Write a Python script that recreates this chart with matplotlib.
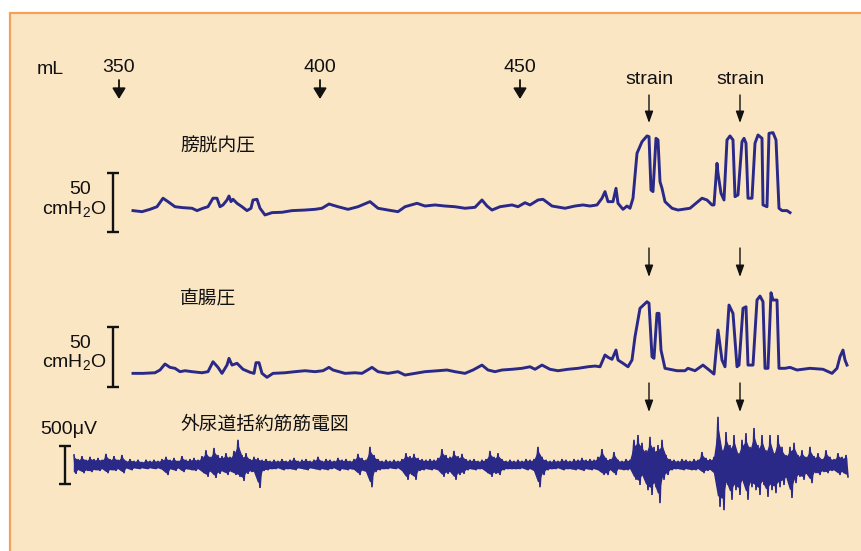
"""Urodynamic trace: bladder pressure, rectal pressure and external
urethral sphincter EMG during filling, with two strain manoeuvres."""
import numpy as np
import matplotlib
matplotlib.use("Agg")
import matplotlib.pyplot as plt
from matplotlib.patches import Rectangle

BG = "#fbe6c4"
EDGE = "#f2a25a"
TRACE = "#2b2987"
INK = "#111111"

plt.rcParams.update({
    "font.family": ["Liberation Sans", "Noto Sans CJK JP"],
    "mathtext.fontset": "custom",
    "mathtext.rm": "Liberation Sans",
    "text.color": INK,
})

# time axis in seconds from the 350 mL mark
vol_labels = ["350", "400", "450"]
vol_t = [0, 201, 401]
strain_t = [530, 621]

# bladder pressure (cmH2O)
bl_t = [14, 23, 31, 38, 44, 49, 56, 64, 73, 78, 84, 89, 94, 98, 101, 104, 108,
        110, 112, 114, 118, 123, 128, 132, 134, 138, 141, 146, 153, 163, 173,
        186, 196, 203, 210, 219, 229, 239, 251, 259, 269, 279, 286, 298, 306,
        316, 326, 336, 346, 356, 363, 368, 373, 381, 393, 399, 406, 411, 419,
        424, 433, 446, 456, 464, 471, 478, 483, 486, 489, 494, 497, 499, 504,
        508, 511, 514, 518, 523, 528, 530, 532, 534, 537, 539, 541, 543, 546,
        553, 559, 571, 583, 588, 593, 595, 598, 599, 602, 605, 608, 611, 614,
        616, 619, 623, 625, 627, 629, 633, 636, 639, 643, 644, 648, 650, 654,
        657, 660, 663, 668, 671]
bl_p = [18.1, 17.2, 19.2, 21.4, 28.6, 25.7, 21.4, 20.6, 20.1, 18.1, 20.1, 21.4,
        28.6, 28.6, 21.4, 22.9, 27.1, 30.5, 25.7, 27.7, 24.3, 21.4, 18.1, 20.1,
        27.1, 27.7, 20.1, 14.4, 16.4, 16.7, 18.1, 18.6, 19.2, 20.1, 23.7, 21.4,
        19.2, 21.4, 25.7, 20.1, 18.6, 17.2, 21.4, 24.3, 22.0, 22.9, 22.0, 21.4,
        20.1, 20.9, 27.1, 22.0, 18.6, 21.4, 22.9, 21.4, 24.8, 22.9, 27.1, 27.7,
        22.0, 20.1, 22.0, 22.9, 22.0, 22.9, 28.6, 34.2, 25.7, 25.7, 37.0, 24.3,
        19.2, 22.0, 20.1, 28.6, 66.7, 76.5, 81.4, 80.8, 35.6, 34.2, 79.4, 78.0,
        42.6, 37.0, 25.7, 20.1, 18.6, 20.1, 28.6, 27.1, 22.9, 22.9, 58.2, 49.7,
        32.8, 27.1, 78.0, 81.4, 78.0, 29.9, 31.4, 76.5, 79.4, 75.2, 28.6, 28.6,
        75.2, 82.2, 79.4, 22.9, 21.4, 83.6, 84.2, 78.0, 20.1, 18.1, 18.1, 16.4]

# rectal pressure (cmH2O)
re_t = [14, 24, 36, 41, 46, 51, 56, 61, 66, 73, 83, 89, 94, 99, 103, 108, 110,
        113, 118, 124, 131, 135, 137, 140, 143, 148, 154, 166, 176, 186, 196,
        204, 210, 214, 226, 236, 243, 253, 259, 269, 279, 286, 296, 306, 319,
        328, 336, 346, 354, 363, 369, 376, 383, 393, 403, 411, 416, 423, 431,
        439, 449, 459, 469, 476, 481, 486, 489, 493, 497, 499, 504, 509, 513,
        516, 521, 528, 530, 533, 535, 538, 540, 542, 546, 558, 566, 569, 576,
        584, 591, 595, 599, 603, 606, 610, 614, 618, 620, 624, 627, 629, 634,
        638, 641, 644, 646, 649, 652, 654, 658, 660, 666, 671, 678, 691, 704,
        713, 718, 721, 724, 726, 728]
re_p = [11.4, 11.4, 11.9, 14.2, 19.2, 16.4, 15.6, 12.8, 13.6, 12.8, 11.9, 12.8,
        21.1, 16.4, 11.4, 18.3, 23.9, 18.3, 19.8, 14.8, 12.3, 11.4, 20.3, 20.3,
        11.4, 8.1, 11.4, 11.9, 12.8, 13.6, 12.8, 13.6, 16.4, 14.2, 11.4, 11.9,
        11.4, 16.4, 12.8, 11.4, 12.8, 10.0, 11.4, 12.8, 13.6, 14.2, 12.8, 11.4,
        14.2, 18.3, 14.2, 12.8, 14.2, 14.8, 15.6, 16.9, 14.8, 18.3, 14.8, 13.6,
        14.8, 15.6, 16.9, 17.5, 16.9, 26.7, 24.8, 23.1, 30.8, 22.5, 19.8, 16.9,
        22.5, 41.9, 65.6, 71.1, 69.8, 25.3, 23.9, 61.4, 61.4, 30.8, 15.6, 13.6,
        13.6, 15.6, 13.6, 18.3, 13.6, 10.8, 47.5, 22.5, 16.9, 68.3, 61.4, 16.9,
        18.3, 65.6, 66.9, 18.3, 18.3, 72.5, 75.8, 71.1, 15.6, 15.6, 78.6, 72.5,
        72.5, 15.6, 15.6, 16.4, 14.2, 15.6, 14.8, 11.4, 15.6, 25.3, 30.8, 22.5,
        18.3]

# sphincter EMG envelope (uV), one sample every 4 s from t = -45
emg_hi = [135, 80, 120, 70, 110, 80, 95, 70, 150, 80,
          120, 70, 135, 55, 80, 55, 70, 40, 70, 55,
          70, 55, 80, 110, 70, 95, 55, 120, 70, 80,
          95, 70, 120, 200, 110, 230, 135, 120, 160, 110,
          190, 340, 135, 160, 80, 110, 95, 70, 80, 55,
          70, 55, 80, 55, 70, 95, 55, 70, 80, 55,
          70, 110, 55, 80, 70, 55, 95, 70, 80, 55,
          80, 150, 95, 70, 245, 135, 80, 55, 70, 55,
          70, 55, 80, 160, 120, 150, 95, 80, 70, 80,
          70, 95, 215, 135, 110, 190, 120, 150, 80, 70,
          80, 55, 70, 80, 190, 110, 160, 80, 55, 70,
          55, 70, 55, 80, 70, 80, 245, 110, 70, 55,
          70, 55, 80, 70, 55, 80, 70, 95, 70, 80,
          70, 110, 215, 95, 80, 175, 70, 55, 80, 70,
          340, 405, 300, 200, 380, 245, 270, 340, 135, 80,
          70, 55, 80, 70, 55, 80, 70, 175, 95, 80,
          110, 650, 200, 445, 270, 405, 160, 340, 430, 245,
          500, 270, 405, 200, 405, 160, 405, 245, 135, 245,
          300, 135, 200, 110, 245, 120, 160, 80, 200, 110,
          80, 160, 110, 135]
emg_lo = [120, 70, 110, 80, 95, 70, 80, 55, 110, 70,
          80, 55, 110, 40, 70, 40, 55, 40, 55, 40,
          55, 40, 70, 135, 55, 80, 40, 95, 55, 70,
          80, 55, 110, 160, 95, 175, 120, 95, 135, 95,
          135, 160, 215, 120, 95, 110, 310, 80, 70, 55,
          55, 40, 70, 55, 55, 70, 40, 55, 70, 40,
          55, 70, 55, 70, 55, 40, 80, 55, 70, 55,
          70, 135, 80, 110, 300, 95, 70, 55, 55, 40,
          55, 40, 95, 200, 135, 200, 80, 70, 55, 70,
          55, 80, 160, 120, 110, 200, 135, 120, 70, 55,
          70, 55, 55, 110, 160, 120, 135, 70, 55, 55,
          55, 55, 40, 70, 55, 95, 300, 135, 70, 55,
          55, 40, 70, 55, 55, 70, 55, 80, 55, 70,
          55, 80, 135, 135, 70, 135, 55, 70, 70, 55,
          200, 270, 160, 340, 405, 300, 515, 200, 135, 70,
          55, 55, 70, 55, 70, 70, 55, 110, 80, 70,
          135, 565, 610, 270, 470, 340, 405, 245, 470, 300,
          340, 405, 270, 430, 340, 380, 300, 270, 200, 445,
          245, 160, 200, 135, 245, 110, 135, 95, 110, 80,
          80, 135, 110, 160]
emg_t = np.arange(len(emg_hi)) * 4 - 45

W, H = 862, 551
XLIM = (-119, 743)

fig = plt.figure(figsize=(W / 100, H / 100), dpi=100, facecolor="white")
fig.patches.append(Rectangle((10 / W, -0.05), 1.1, 1 + 0.05 - 13 / H,
                             transform=fig.transFigure, facecolor=BG,
                             edgecolor=EDGE, lw=1.6, zorder=-10))


def band(top, bottom):
    return fig.add_axes([0, 1 - bottom / H, 1, (bottom - top) / H])


def strip(ax, ylim):
    ax.set_xlim(*XLIM)
    ax.set_ylim(*ylim)
    ax.axis("off")
    ax.patch.set_alpha(0)


def scalebar(ax, x, y0, y1, half=6):
    ax.plot([x, x], [y0, y1], color=INK, lw=1.7, solid_capstyle="butt")
    ax.hlines([y0, y1], x - half, x + half, color=INK, lw=1.7)


# bladder
ax1 = band(120, 240)
strip(ax1, (-6.8, 94.9))
ax1.plot(bl_t, bl_p, color=TRACE, lw=2.1, solid_joinstyle="round")
scalebar(ax1, -6, 0, 50)

# rectum
ax2 = band(280, 400)
strip(ax2, (-10.8, 89.2))
ax2.plot(re_t, re_p, color=TRACE, lw=2.1, solid_joinstyle="round")
scalebar(ax2, -6, 0, 50)

# EMG: filled body of the envelope plus an up/down swing to each extreme
ax3 = band(395, 535)
strip(ax3, (-945, 945))
emg_hi = np.array(emg_hi)
emg_lo = np.array(emg_lo)
ax3.fill_between(emg_t, -0.72 * emg_lo, 0.72 * emg_hi, color=TRACE, lw=1.0)
swing_t = np.ravel(np.column_stack([emg_t, emg_t + 2]))
swing_v = np.ravel(np.column_stack([emg_hi, -emg_lo]))
ax3.plot(swing_t, swing_v, color=TRACE, lw=1.2, solid_joinstyle="miter")
scalebar(ax3, -54, -250, 250)

# labels and markers, x in seconds, y in pixels from the top
ov = fig.add_axes([0, 0, 1, 1])
strip(ov, (H, 0))


def arrow(x, y0, y1, lw, hl, hw):
    ov.annotate("", xy=(x, y1), xytext=(x, y0),
                arrowprops=dict(arrowstyle=f"-|>,head_length={hl},head_width={hw}",
                                color=INK, lw=lw, shrinkA=0, shrinkB=0,
                                mutation_scale=10))


ov.text(-69, 70, "mL", fontsize=14, ha="center", va="center")
for lab, t in zip(vol_labels, vol_t):
    ov.text(t, 68, lab, fontsize=14, ha="center", va="center")
    arrow(t, 80, 99, 1.3, 0.65, 0.4)

for t in strain_t:
    ov.text(t, 80, "strain", fontsize=14, ha="center", va="center")
    for y0, y1 in [(95, 123), (248, 277), (383, 412)]:
        arrow(t, y0, y1, 1.0, 0.7, 0.25)

ov.text(61, 147, "膀胱内圧", fontsize=13.5, ha="left", va="center")
ov.text(61, 300, "直腸圧", fontsize=13.5, ha="left", va="center")
ov.text(61, 425, "外尿道括約筋筋電図", fontsize=13.5, ha="left", va="center")

for y50 in (190, 343):
    ov.text(-39, y50, "50", fontsize=14, ha="center", va="center")
    ov.text(-12, y50 + 20, r"cmH$_\mathregular{2}$O", fontsize=14,
            ha="right", va="center")
ov.text(-79, 430, "500μV", fontsize=14, ha="left", va="center")

fig.savefig("out.png", dpi=100, facecolor=fig.get_facecolor())
